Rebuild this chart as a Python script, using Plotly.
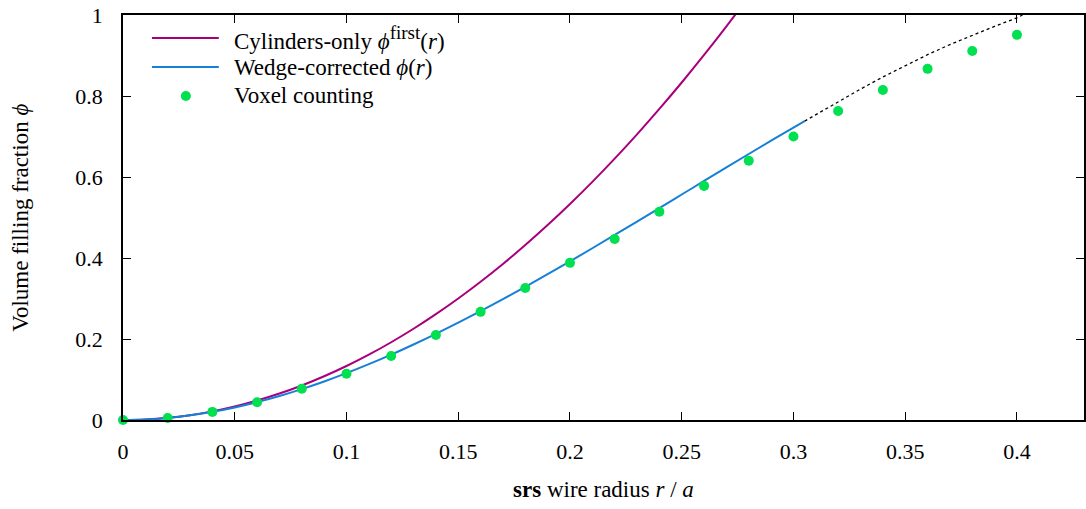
import plotly.graph_objects as go

# Cylinders-only estimate phi_first(r)
r_cyl = [0.0, 0.01, 0.02, 0.03, 0.04, 0.05, 0.06, 0.07, 0.08, 0.09, 0.10,
         0.11, 0.12, 0.13, 0.14, 0.15, 0.16, 0.17, 0.18, 0.19, 0.20,
         0.21, 0.22, 0.23, 0.24, 0.25, 0.26, 0.27, 0.28]
phi_cyl = [0.0, 0.0013, 0.0053, 0.012, 0.0213, 0.0333, 0.048, 0.0653, 0.0853,
           0.108, 0.1333, 0.1613, 0.192, 0.2253, 0.2613, 0.300, 0.3413, 0.3853,
           0.432, 0.4813, 0.5333, 0.588, 0.6453, 0.7053, 0.768, 0.8333, 0.9013,
           0.972, 1.0453]

# Wedge-corrected phi(r), valid range
r_wedge = [0.0, 0.01, 0.02, 0.03, 0.04, 0.05, 0.06, 0.07, 0.08, 0.09, 0.10,
           0.11, 0.12, 0.13, 0.14, 0.15, 0.16, 0.17, 0.18, 0.19, 0.20,
           0.21, 0.22, 0.23, 0.24, 0.25, 0.26, 0.27, 0.28, 0.29, 0.30, 0.305]
phi_wedge = [0.0, 0.0013, 0.0052, 0.0115, 0.0202, 0.0311, 0.0442, 0.0593, 0.0763,
             0.0951, 0.1156, 0.1378, 0.1614, 0.1865, 0.2128, 0.2403, 0.2688,
             0.2984, 0.3288, 0.3599, 0.3917, 0.4241, 0.4569, 0.4900, 0.5233,
             0.5568, 0.5902, 0.6236, 0.6568, 0.6897, 0.7221, 0.738]

# Wedge-corrected phi(r) beyond its validity (dotted)
r_ext = [0.305, 0.31, 0.32, 0.33, 0.34, 0.35, 0.36, 0.37, 0.38, 0.39, 0.40, 0.4025]
phi_ext = [0.738, 0.754, 0.786, 0.817, 0.847, 0.875, 0.902, 0.927, 0.950, 0.972, 0.993, 1.0]

# Voxel counting results
r_vox = [0.0, 0.02, 0.04, 0.06, 0.08, 0.10, 0.12, 0.14, 0.16, 0.18, 0.20,
         0.22, 0.24, 0.26, 0.28, 0.30, 0.32, 0.34, 0.36, 0.38, 0.40]
phi_vox = [0.0, 0.005, 0.020, 0.044, 0.077, 0.114, 0.158, 0.210, 0.267, 0.326,
           0.388, 0.447, 0.514, 0.578, 0.640, 0.700, 0.763, 0.815, 0.867, 0.911,
           0.951]

x_ticks = [0, 0.05, 0.1, 0.15, 0.2, 0.25, 0.3, 0.35, 0.4]
x_tick_text = ["0", "0.05", "0.1", "0.15", "0.2", "0.25", "0.3", "0.35", "0.4"]
y_ticks = [0, 0.2, 0.4, 0.6, 0.8, 1]
y_tick_text = ["0", "0.2", "0.4", "0.6", "0.8", "1"]

MAGENTA = "#a8007c"
BLUE = "#1580d6"
GREEN = "#00e050"
FONT = "'Liberation Serif', 'DejaVu Serif', 'Times New Roman', Times, serif"
PHI = "\u03d5"

fig = go.Figure()
fig.add_trace(go.Scatter(x=r_cyl, y=phi_cyl, mode="lines",
                         line=dict(color=MAGENTA, width=2, shape="spline"), showlegend=False))
fig.add_trace(go.Scatter(x=r_wedge, y=phi_wedge, mode="lines",
                         line=dict(color=BLUE, width=2, shape="spline"), showlegend=False))
fig.add_trace(go.Scatter(x=r_ext, y=phi_ext, mode="lines",
                         line=dict(color="black", width=1.3, dash="dot"), showlegend=False))
fig.add_trace(go.Scatter(x=r_vox, y=phi_vox, mode="markers",
                         marker=dict(color=GREEN, size=10), showlegend=False, cliponaxis=False))

W, H = 1086, 509
L, R, T, B = 123, 0, 15, 89
pw, ph = W - L - R, H - T - B


def px(xp):
    return (xp - L) / pw


def py(yp):
    return (H - B - yp) / ph


# Hand-drawn key in the upper left
key = [
    ("line", MAGENTA,
     f"Cylinders-only <i>{PHI}</i><sup><span style='font-size:19px'>first</span></sup>(<i>r</i>)", 38),
    ("line", BLUE, f"Wedge-corrected <i>{PHI}</i>(<i>r</i>)", 67),
    ("dot", GREEN, "Voxel counting", 96),
]
shapes = []
annotations = []
for kind, col, label, yy in key:
    if kind == "line":
        shapes.append(dict(type="line", xref="paper", yref="paper",
                           x0=px(152), x1=px(219), y0=py(yy), y1=py(yy),
                           line=dict(color=col, width=2)))
    else:
        shapes.append(dict(type="circle", xref="paper", yref="paper",
                           xsizemode="pixel", ysizemode="pixel",
                           xanchor=px(186), yanchor=py(yy),
                           x0=-5, x1=5, y0=-5, y1=5,
                           fillcolor=col, line=dict(width=0)))
    annotations.append(dict(xref="paper", yref="paper", x=px(232), y=py(yy),
                            xanchor="left", yanchor="middle", showarrow=False,
                            text=label, font=dict(family=FONT, size=23, color="black")))

# Axis titles
annotations.append(dict(xref="paper", yref="paper", x=0.5, y=py(490),
                        xanchor="center", yanchor="middle", showarrow=False,
                        text="<b>srs</b> wire radius <i>r</i> / <i>a</i>",
                        font=dict(family=FONT, size=23, color="black")))
annotations.append(dict(xref="paper", yref="paper", x=px(20), y=0.5,
                        xanchor="center", yanchor="middle", showarrow=False, textangle=-90,
                        text=f"Volume filling fraction <i>{PHI}</i>",
                        font=dict(family=FONT, size=23, color="black")))

fig.update_layout(
    width=W, height=H,
    margin=dict(l=L, r=R, t=T, b=B, pad=0),
    paper_bgcolor="white", plot_bgcolor="white",
    font=dict(family=FONT, size=22, color="black"),
    shapes=shapes, annotations=annotations,
    showlegend=False,
)
fig.update_xaxes(
    range=[0, 0.43], tickvals=x_ticks, ticktext=x_tick_text,
    tickfont=dict(family=FONT, size=22, color="black"),
    ticks="inside", ticklen=8, tickwidth=1, tickcolor="black",
    showline=True, linecolor="black", linewidth=1.5, mirror="ticks",
    showgrid=False, zeroline=False, ticklabelstandoff=11,
)
fig.update_yaxes(
    range=[0, 1], tickvals=y_ticks, ticktext=y_tick_text,
    tickfont=dict(family=FONT, size=22, color="black"),
    ticks="inside", ticklen=8, tickwidth=1, tickcolor="black",
    showline=True, linecolor="black", linewidth=1.5, mirror="ticks",
    showgrid=False, zeroline=False, ticklabelstandoff=14,
)

fig.write_html("out.html")
